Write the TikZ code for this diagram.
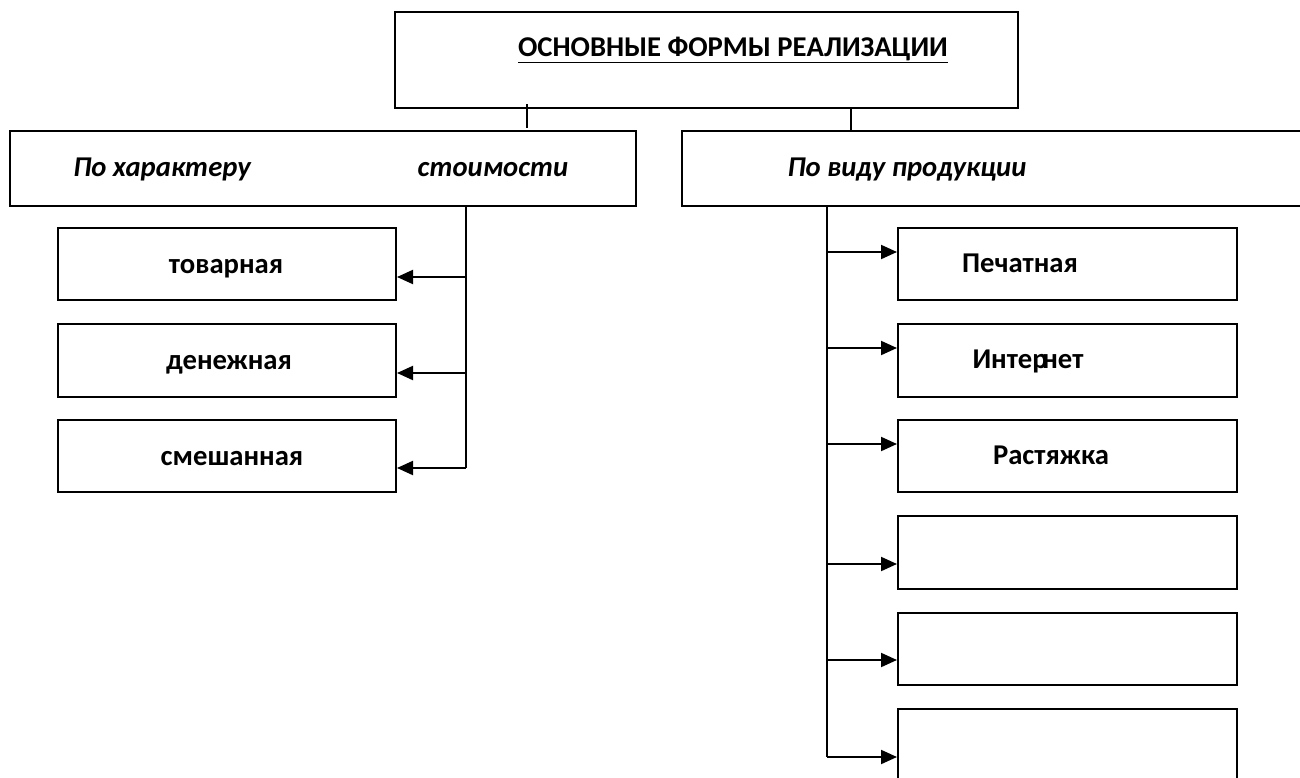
\documentclass[tikz,border=0pt]{standalone}
\usepackage{fontspec}
\setmainfont{Carlito}
\usetikzlibrary{arrows.meta}
\tikzset{
  box/.style={draw, line width=1.5pt, rectangle, inner sep=0pt},
  lbl/.style={inner sep=0pt, font=\fontsize{21.5}{25}\selectfont\bfseries, anchor=base},
  ilbl/.style={inner sep=0pt, font=\fontsize{21.5}{25}\selectfont\bfseries\itshape, anchor=base},
  conn/.style={line width=1.5pt},
  arr/.style={line width=1.5pt, -{Triangle[length=12pt,width=10.5pt]}},
}
\newcommand{\boxat}[5]{\node[box, minimum width={(#3-#2)*0.75pt}, minimum height={(#5-#4)*0.75pt}] (#1) at ({(#2+#3)/2},{(#4+#5)/2}) {};}
\begin{document}
\begin{tikzpicture}[x=0.75pt,y=-0.75pt]
\useasboundingbox (0,0) rectangle (1300,778);
\clip (0,0) rectangle (1300,778);
\fill[white] (0,0) rectangle (1300,778);
% top
\boxat{top}{395}{1018}{12}{108}
\node[lbl] (ttl) at (733,56) {\underline{ОСНОВНЫЕ ФОРМЫ РЕАЛИЗАЦИИ}};
% headers
\boxat{hl}{10}{636}{131}{206}
\boxat{hr}{682}{1320}{131}{206}
\node[ilbl] (hl1) at (162,176) {По характеру};
\node[ilbl] (hl2) at (493,176) {стоимости};
\node[ilbl] (hr1) at (907,176) {По виду продукции};
% top connectors
\coordinate (tk1) at (527,104);
\coordinate (tk2) at (527,128);
\draw[conn] (tk1) -- (tk2);
\coordinate (rc) at (851,108);
\draw[conn] (rc) -- (rc |- hr.north);
% left boxes
\boxat{l1}{58}{396}{228}{300}
\boxat{l2}{58}{396}{324}{397}
\boxat{l3}{58}{396}{420}{492}
\node[lbl] at (226,273) {товарная};
\node[lbl] at (229,369) {денежная};
\node[lbl] at (232,465) {смешанная};
\coordinate (lv) at (466,206);
\coordinate (la1) at (466,277);
\coordinate (la2) at (466,373);
\coordinate (la3) at (466,468);
\draw[conn] (lv) -- (la3);
\draw[arr] (la1) -- (la1 -| l1.east);
\draw[arr] (la2) -- (la2 -| l2.east);
\draw[arr] (la3) -- (la3 -| l3.east);
% right boxes
\boxat{r1}{898}{1237}{228}{300}
\boxat{r2}{898}{1237}{324}{397}
\boxat{r3}{898}{1237}{420}{492}
\boxat{r4}{898}{1237}{516}{589}
\boxat{r5}{898}{1237}{613}{685}
\boxat{r6}{898}{1237}{709}{800}
\node[lbl] at (1020,272) {Печатная};
\node[lbl] at (1028,368) {Интер\kern-4pt нет};
\node[lbl] at (1051,464) {Растяжка};
\coordinate (rv) at (827,206);
\coordinate (ra1) at (827,252);
\coordinate (ra2) at (827,348);
\coordinate (ra3) at (827,444);
\coordinate (ra4) at (827,564);
\coordinate (ra5) at (827,660);
\coordinate (ra6) at (827,757);
\draw[conn] (rv) -- (ra6);
\draw[arr] (ra1) -- (ra1 -| r1.west);
\draw[arr] (ra2) -- (ra2 -| r2.west);
\draw[arr] (ra3) -- (ra3 -| r3.west);
\draw[arr] (ra4) -- (ra4 -| r4.west);
\draw[arr] (ra5) -- (ra5 -| r5.west);
\draw[arr] (ra6) -- (ra6 -| r6.west);
\end{tikzpicture}
\end{document}
